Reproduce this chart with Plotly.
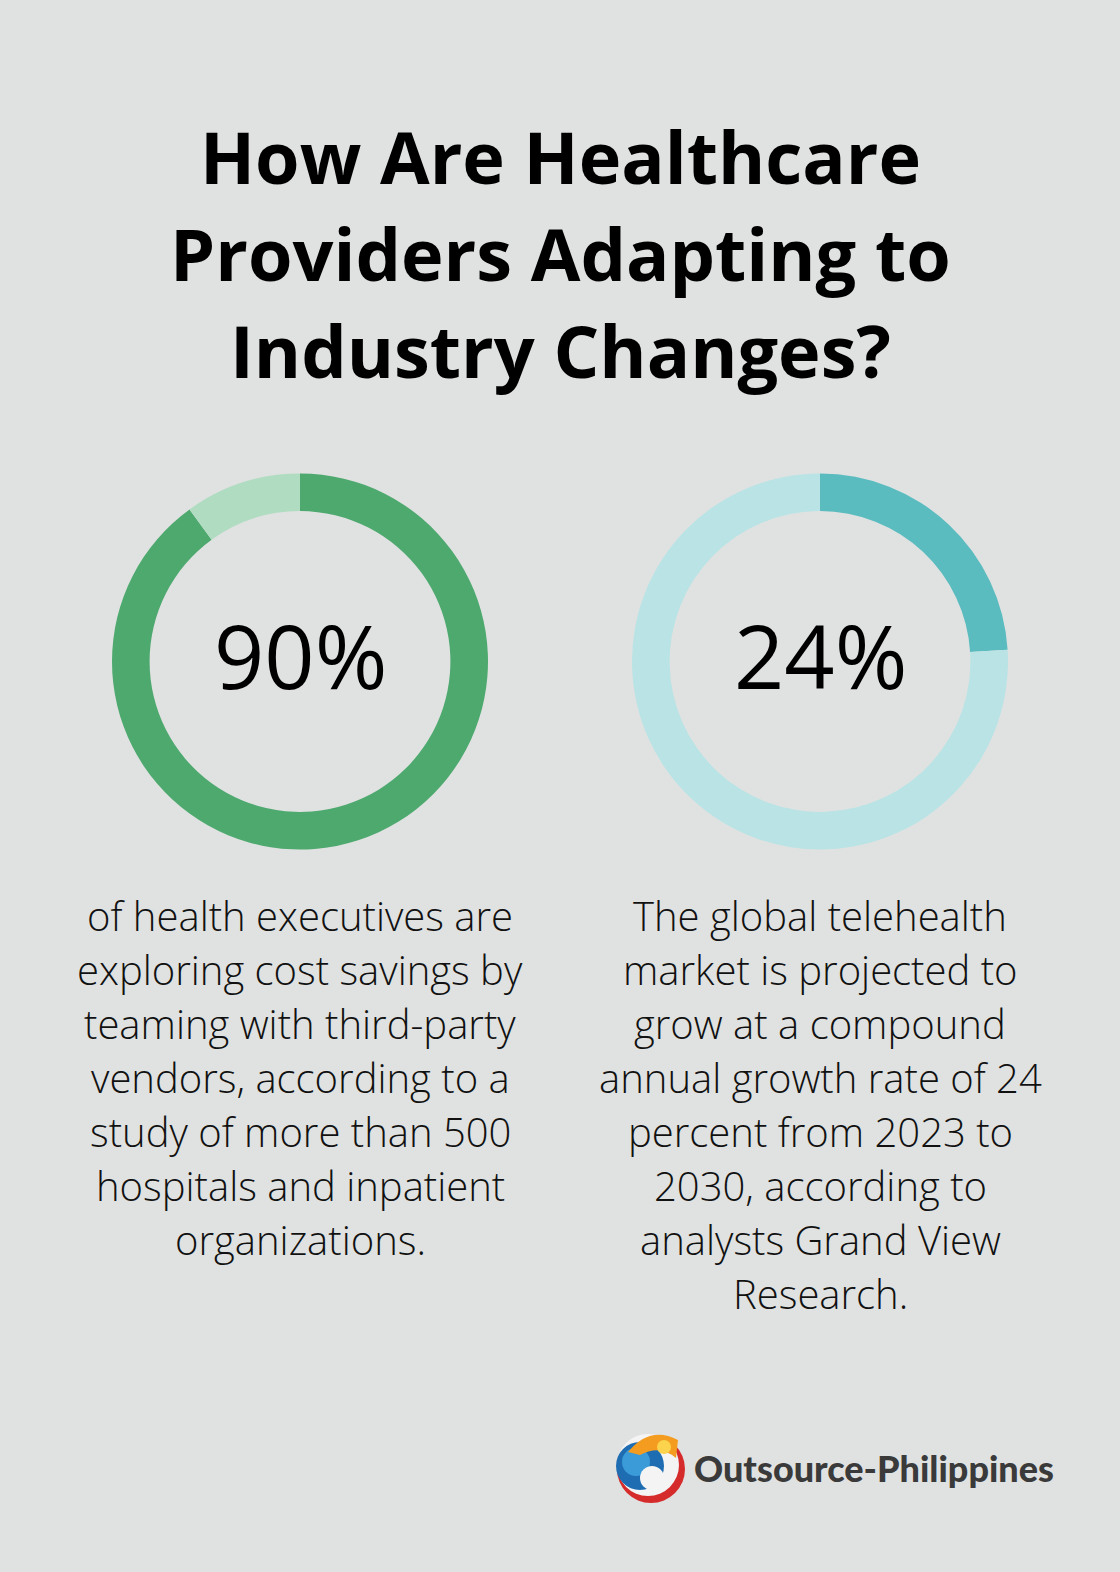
import plotly.graph_objects as go

# ---- data ----
title_lines = ["How Are Healthcare", "Providers Adapting to", "Industry Changes?"]
stat_labels = ["90%", "24%"]
left_values = [90, 10]
left_labels = ["Exploring cost savings", "Other"]
right_values = [24, 76]
right_labels = ["Telehealth CAGR", "Remainder"]
left_text = ["of health executives are", "exploring cost savings by", "teaming with third-party",
             "vendors, according to a", "study of more than 500", "hospitals and inpatient",
             "organizations."]
right_text = ["The global telehealth", "market is projected to", "grow at a compound",
              "annual growth rate of 24", "percent from 2023 to", "2030, according to",
              "analysts Grand View", "Research."]
brand = "Outsource-Philippines"

# ---- layout constants ----
W, H = 1120, 1572
BG = "#E0E2E1"
LEFT_CX, RIGHT_CX = 300, 820

def py(y):
    return 1 - y / H

def px(x):
    return x / W

fig = go.Figure()

R = 188
for cx, vals, labs, cols in [
    (LEFT_CX, left_values, left_labels, ["#4EA96F", "#B0DCC2"]),
    (RIGHT_CX, right_values, right_labels, ["#5BBCC0", "#B9E3E5"]),
]:
    cy = 661.5
    fig.add_trace(go.Pie(
        values=vals, labels=labs, hole=0.8, sort=False, direction="clockwise",
        rotation=0, textinfo="none", hoverinfo="label+value",
        marker=dict(colors=cols, line=dict(width=0)),
        domain=dict(x=[px(cx - R), px(cx + R)], y=[py(cy + R), py(cy - R)]),
        showlegend=False,
    ))

annotations = []
# title
for i, line in enumerate(title_lines):
    annotations.append(dict(
        text=line, x=0.5, y=py(156 + i * 97), xref="paper", yref="paper",
        xanchor="center", yanchor="middle", showarrow=False,
        font=dict(family="Open Sans", size=72, color="#000000", weight=700),
    ))
# big stats
for cx, lab in zip([LEFT_CX, RIGHT_CX], stat_labels):
    annotations.append(dict(
        text=lab, x=px(cx), y=py(655), xref="paper", yref="paper",
        xanchor="center", yanchor="middle", showarrow=False,
        font=dict(family="Open Sans", size=88, color="#000000", weight=500),
    ))
# body text
for cx, lines in [(LEFT_CX, left_text), (RIGHT_CX, right_text)]:
    for i, line in enumerate(lines):
        annotations.append(dict(
            text=line, x=px(cx), y=py(915 + i * 54.1), xref="paper", yref="paper",
            xanchor="center", yanchor="middle", showarrow=False,
            font=dict(family="Open Sans", size=40, color="#111111", weight=300),
        ))
# brand text
annotations.append(dict(
    text=brand, x=px(692), y=py(1468), xref="paper", yref="paper",
    xanchor="left", yanchor="middle", showarrow=False,
    font=dict(family="Lato", size=36, color="#3a3a3a", weight=900),
))

# logo shapes (decoration)
def circ(cx, cy, r, color):
    return dict(type="circle", xref="paper", yref="paper",
                x0=px(cx - r), x1=px(cx + r), y0=py(cy + r), y1=py(cy - r),
                fillcolor=color, line=dict(width=0), layer="above")

shapes = [
    circ(651, 1469, 34, "#D52B2B"),
    circ(648, 1465, 31, "#F4F4F4"),
    circ(640, 1466, 24, "#1E6DB3"),
    circ(636, 1462, 14, "#3A9BD8"),
    circ(652, 1478, 12, "#F4F4F4"),
    dict(type="path", xref="paper", yref="paper",
         path=f"M {px(628)},{py(1452)} Q {px(650)},{py(1425)} {px(678)},{py(1440)} "
              f"L {px(676)},{py(1458)} Q {px(660)},{py(1444)} {px(640)},{py(1455)} Z",
         fillcolor="#F39C1F", line=dict(width=0), layer="above"),
    circ(664, 1447, 7, "#FBD34D"),
]

fig.update_layout(
    width=W, height=H, margin=dict(l=0, r=0, t=0, b=0),
    paper_bgcolor=BG, plot_bgcolor=BG,
    annotations=annotations, shapes=shapes,
)

fig.write_html("out.html", config={"displayModeBar": False},
               post_script="document.body.style.margin='0';document.body.style.overflow='hidden';")
